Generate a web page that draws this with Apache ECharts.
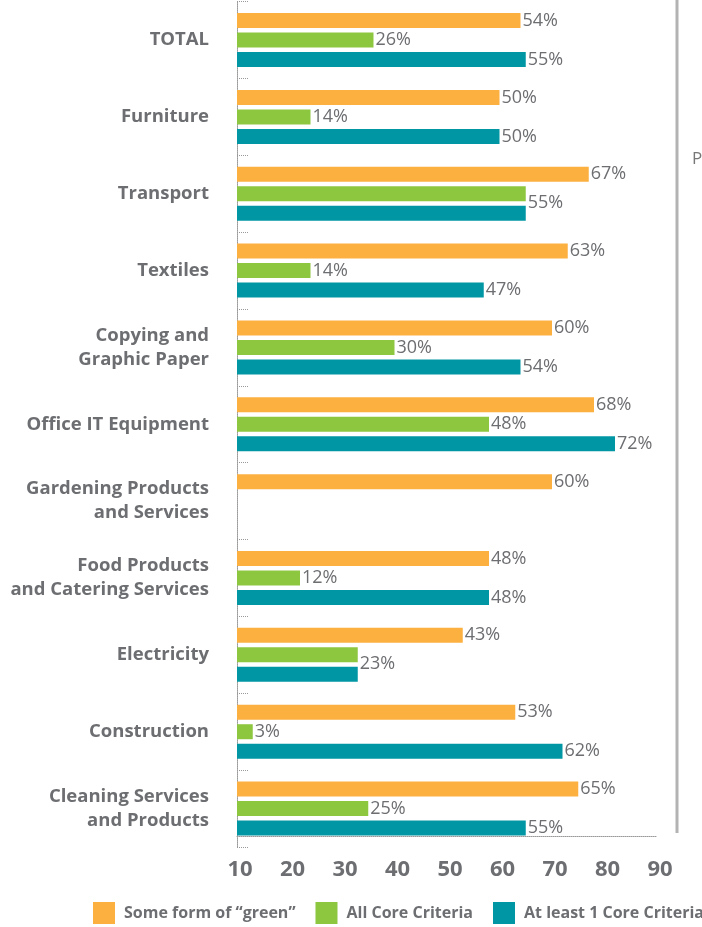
<!DOCTYPE html>
<html>
<head>
<meta charset="utf-8">
<script src="https://cdn.jsdelivr.net/npm/echarts@6/dist/echarts.min.js"></script>
<style>
  html, body { margin: 0; padding: 0; background: #fff; }
  #chart { width: 702px; height: 927px; }
</style>
</head>
<body>
<div id="chart"></div>
<script>
const categories = [
  "TOTAL",
  "Furniture",
  "Transport",
  "Textiles",
  "Copying and\nGraphic Paper",
  "Office IT Equipment",
  "Gardening Products\nand Services",
  "Food Products\nand Catering Services",
  "Electricity",
  "Construction",
  "Cleaning Services\nand Products"
];
const someGreen = [54, 50, 67, 63, 60, 68, 60, 48, 43, 53, 65];
const allCore = [26, 14, 55, 14, 30, 48, 0, 12, 23, 3, 25];
const atLeastOne = [55, 50, 55, 47, 54, 72, 0, 48, 23, 62, 55];
const seriesNames = ["Some form of \u201cgreen\u201d", "All Core Criteria", "At least 1 Core Criteria"];
const tickLabels = ["10", "20", "30", "40", "50", "60", "70", "80", "90"];

const colors = ["#fbb040", "#8dc63f", "#0096a3"];
const textGray = "#6d6e71";

const chart = echarts.init(document.getElementById("chart"));

function pctLabel(p) {
  return p.value ? p.value + "%" : "";
}

// when green and teal bars are equal, only one label sits between them
const greenData = allCore.map((v, i) =>
  v && v === atLeastOne[i] ? { value: v, label: { offset: [0, 9] } } : v
);
const tealData = atLeastOne.map((v, i) =>
  v && v === allCore[i] ? { value: v, label: { show: false } } : v
);

function barSeries(name, data, color) {
  return {
    name: name,
    type: "bar",
    data: data,
    barWidth: 15,
    barGap: "30%",
    itemStyle: { color: color },
    label: {
      show: true,
      position: "right",
      distance: 2,
      formatter: pctLabel,
      color: textGray,
      fontFamily: "Open Sans",
      fontSize: 18
    }
  };
}

chart.setOption({
  animation: false,
  backgroundColor: "#fff",
  color: colors,
  grid: { left: 237, right: 45, top: 1.6, height: 845.4 },
  legend: {
    left: 88,
    top: 897,
    width: 760,
    itemWidth: 22,
    itemHeight: 22,
    itemGap: 20,
    icon: "rect",
    textStyle: {
      color: textGray,
      fontFamily: "Open Sans",
      fontWeight: "bold",
      fontSize: 16,
      padding: [0, 0, 0, 4]
    },
    data: seriesNames
  },
  xAxis: {
    type: "value",
    min: 0,
    max: 80,
    interval: 10,
    offset: -11,
    axisLine: { show: true, lineStyle: { color: "#999", type: "dotted", width: 1 } },
    axisTick: { show: false },
    splitLine: { show: false },
    axisLabel: {
      color: textGray,
      fontFamily: "Open Sans",
      fontWeight: "bold",
      fontSize: 22,
      margin: 23,
      padding: [0, 0, 0, 6],
      formatter: (v) => tickLabels[Math.round(v / 10)]
    }
  },
  yAxis: {
    type: "category",
    inverse: true,
    data: categories,
    axisLine: { show: true, lineStyle: { color: "#999", type: "dotted", width: 1 } },
    axisTick: { show: true, inside: true, length: 12, lineStyle: { color: "#999", type: "dotted" } },
    axisLabel: {
      color: textGray,
      fontFamily: "Open Sans",
      fontWeight: "bold",
      fontSize: 18.5,
      lineHeight: 24,
      margin: 28,
      align: "right",
      padding: [3, 0, 0, 0]
    }
  },
  series: [
    barSeries(seriesNames[0], someGreen, colors[0]),
    barSeries(seriesNames[1], greenData, colors[1]),
    barSeries(seriesNames[2], tealData, colors[2])
  ],
  graphic: [
    {
      type: "line",
      shape: { x1: 677, y1: 0, x2: 677, y2: 833 },
      style: { stroke: "#b3b3b3", lineWidth: 3 }
    },
    {
      type: "text",
      left: 692,
      top: 151,
      style: { text: "P", fill: "#777", fontFamily: "Open Sans", fontSize: 17 }
    }
  ]
});
</script>
</body>
</html>
